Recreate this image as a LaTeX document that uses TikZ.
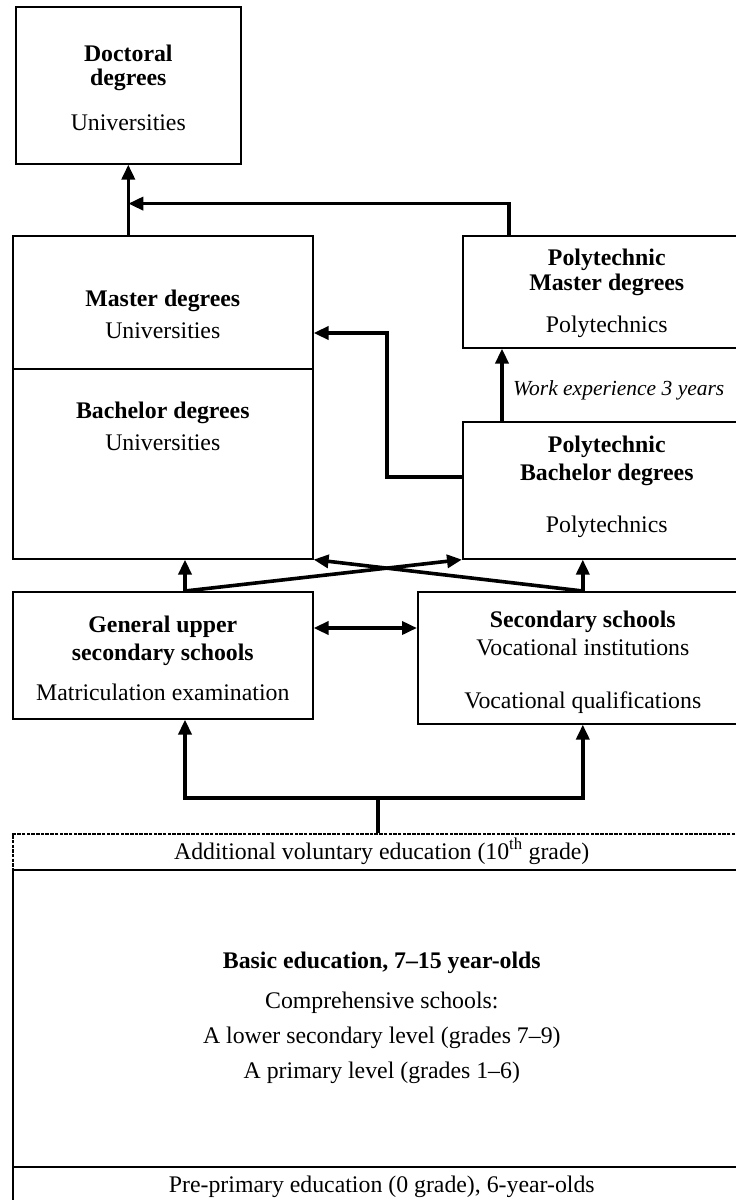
\documentclass[tikz,border=0pt]{standalone}
\usepackage{fontspec}
\setmainfont{Liberation Serif}
\usetikzlibrary{arrows.meta,calc}

\begin{document}
\begin{tikzpicture}[x=1pt,y=-1pt,
  box/.style={draw,line width=1.6pt,inner sep=0pt,anchor=north west},
  dashbox/.style={box,line width=1.5pt,dash pattern=on 3.5pt off 1.2pt},
  flow/.style={line width=3.6pt,-{Triangle[length=15pt,width=13pt]}},
  plain/.style={line width=3.6pt},
  txt/.style={font=\fontsize{23.8}{28}\selectfont,anchor=base,inner sep=0pt},
  hd/.style={txt,font=\fontsize{23.8}{28}\selectfont\bfseries},
  note/.style={txt,font=\fontsize{21.5}{26}\selectfont\itshape,anchor=base west},
]
\useasboundingbox (0,0) rectangle (736,1200);

% boxes
\node[box,minimum width=225pt,minimum height=157pt] (doc) at (15,6) {};
\node[box,minimum width=300pt,minimum height=323pt] (mb) at (12,235) {};
\node[box,minimum width=288pt,minimum height=112pt] (pm) at (462,235) {};
\node[box,minimum width=288pt,minimum height=137pt] (pb) at (462,421) {};
\node[box,minimum width=300pt,minimum height=127pt] (gen) at (12,591) {};
\node[box,minimum width=330pt,minimum height=132pt] (sec) at (417,591) {};
\node[dashbox,minimum width=738pt,minimum height=36pt] (add) at (12,833) {};
\node[box,minimum width=738pt,minimum height=297pt] (basic) at (12,869) {};
\node[box,minimum width=738pt,minimum height=60pt] (pre) at (12,1166) {};
\draw[line width=1.6pt] ($(mb.north west)+(0,134)$) -- ($(mb.north east)+(0,134)$);

% texts
\node[hd] (t1) at (doc.north |- 0,61) {Doctoral};
\node[hd] (t2) at (doc.north |- 0,85) {degrees};
\node[txt] (t3) at (doc.north |- 0,130) {Universities};

\node[hd] (t4) at (mb.north |- 0,306) {Master degrees};
\node[txt] (t5) at (mb.north |- 0,338) {Universities};
\node[hd] (t6) at (mb.north |- 0,418) {Bachelor degrees};
\node[txt] (t7) at (mb.north |- 0,450) {Universities};

\node[hd] (t8) at (pm.north |- 0,265) {Polytechnic};
\node[hd] (t9) at (pm.north |- 0,290) {Master degrees};
\node[txt] (t10) at (pm.north |- 0,332) {Polytechnics};

\node[hd] (t11) at (pb.north |- 0,452) {Polytechnic};
\node[hd] (t12) at (pb.north |- 0,480) {Bachelor degrees};
\node[txt] (t13) at (pb.north |- 0,532) {Polytechnics};

\node[hd] (t14) at (gen.north |- 0,632) {General upper};
\node[hd] (t15) at (gen.north |- 0,660) {secondary schools};
\node[txt] (t16) at (gen.north |- 0,700) {Matriculation examination};

\node[hd] (t17) at (sec.north |- 0,627) {Secondary schools};
\node[txt] (t18) at (sec.north |- 0,655) {Vocational institutions};
\node[txt] (t19) at (sec.north |- 0,708) {Vocational qualifications};

\node[txt] (t20) at (add.north |- 0,859) {Additional voluntary education (10\textsuperscript{th} grade)};
\node[hd] (t21) at (basic.north |- 0,968) {Basic education, 7–15 year-olds};
\node[txt] (t22) at (basic.north |- 0,1008) {Comprehensive schools:};
\node[txt] (t23) at (basic.north |- 0,1043) {A lower secondary level (grades 7–9)};
\node[txt] (t24) at (basic.north |- 0,1078) {A primary level (grades 1–6)};
\node[txt] (t25) at (pre.north |- 0,1192) {Pre-primary education (0 grade), 6-year-olds};

% connectors
\coordinate (up) at (doc.south |- mb.north);
\draw[flow] (up) -- (doc.south);
\path (doc.south) ++(0,39) coordinate (j1);
\draw[flow] ($(pm.north west)+(47,0)$) |- (j1);

\draw[flow] ($(pb.north west)+(40,0)$) coordinate (w) -- (w |- pm.south);
\node[note] (wl) at (513,395) {Work experience 3 years};

\draw[flow] ($(pb.north west)+(0,56)$) -- ++(-75,0) |- ($(mb.north east)+(0,98)$);

\coordinate (g) at ($(gen.north west)+(173,0)$);
\coordinate (s) at (sec.north);
\draw[flow] (g) -- (g |- mb.south);
\draw[flow] (g) -- (pb.south west);
\draw[flow] (s) -- (s |- pb.south);
\draw[flow] (s) -- (mb.south east);

\draw[line width=3.6pt,{Triangle[length=15pt,width=13pt]}-{Triangle[length=15pt,width=13pt]}]
  ($(gen.north east)+(0,37)$) -- ($(sec.north west)+(0,37)$);

\coordinate (stem) at ($(add.north west)+(366,0)$);
\coordinate (bar) at ($(stem)+(0,-35)$);
\draw[plain] (stem) -- (bar);
\draw[flow] (bar) -| (g |- gen.south);
\draw[flow] (bar) -| (s |- sec.south);
\end{tikzpicture}
\end{document}
